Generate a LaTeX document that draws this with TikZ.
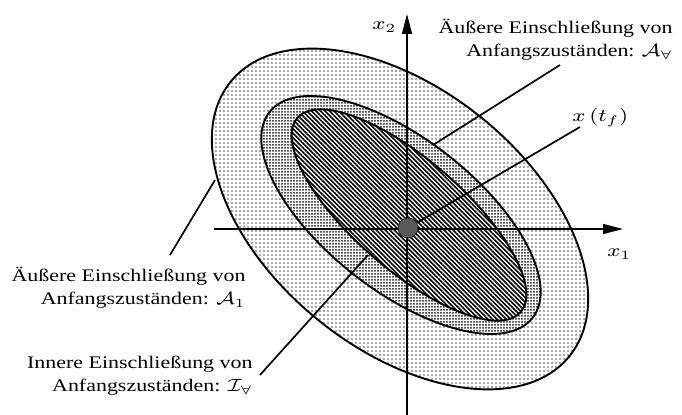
\RequirePackage{fix-cm}
\documentclass[tikz,border=0pt]{standalone}
\usepackage{fontspec}
\setmainfont{Liberation Serif}
\usepackage{graphicx}
\usetikzlibrary{patterns.meta,arrows.meta}
\newcommand{\hstr}[1]{\scalebox{1.24}[1]{#1}}
\begin{document}
\begin{tikzpicture}[x=0.5pt,y=-0.5pt,
  font=\fontsize{8.85}{11.75}\selectfont,
  bd/.style={line width=0.95pt},
  ptr/.style={line width=0.85pt},
  axisline/.style={line width=0.6pt, -{Triangle[length=10pt,width=5pt]}},
  lbl/.style={inner sep=0pt, anchor=base east},
  mlbl/.style={inner sep=0pt, anchor=base west}]
\useasboundingbox[fill=white] (0,0) rectangle (682,415);
\coordinate (cO) at (400,219);
\coordinate (cM) at (401,215);
\coordinate (cI) at (409,215);
% outer band
\begin{scope}
  \clip[rotate around={-39:(cO)}] (cO) ellipse [x radius=218, y radius=130];
  \fill[white] (0,0) rectangle (682,415);
  \fill[pattern={Dots[distance=2pt,radius=0.45pt]}, pattern color=black!70] (0,0) rectangle (682,415);
\end{scope}
% middle band
\begin{scope}
  \clip[rotate around={-38:(cM)}] (cM) ellipse [x radius=167, y radius=76];
  \fill[white] (0,0) rectangle (682,415);
  \fill[pattern={Dots[distance=1.5pt,radius=0.5pt]}, pattern color=black!90] (0,0) rectangle (682,415);
\end{scope}
% inner hatched region
\begin{scope}
  \clip[rotate around={-41:(cI)}] (cI) ellipse [x radius=148, y radius=55];
  \fill[white] (0,0) rectangle (682,415);
  \fill[pattern={Lines[angle=-45,distance=1.6pt,line width=0.8pt]}, pattern color=black] (0,0) rectangle (682,415);
\end{scope}
% outlines
\draw[bd, rotate around={-39:(cO)}] (cO) ellipse [x radius=218, y radius=130];
\draw[bd, rotate around={-38:(cM)}] (cM) ellipse [x radius=167, y radius=76];
\draw[bd, rotate around={-41:(cI)}] (cI) ellipse [x radius=148, y radius=55];
% axes
\coordinate (xs) at (214,229);
\coordinate (xe) at (623,229);
\coordinate (ys) at (407,415);
\coordinate (ye) at (407,14);
\draw[axisline] (xs) -- (xe);
\draw[axisline] (ys) -- (ye);
% centre point
\node[circle, fill=black!65, draw=black!85, line width=0.4pt, inner sep=0pt, minimum size=10pt] (dot) at (408,228) {};
% labels
\node[lbl] (lAv) at (673,57) {\hstr{\begin{tabular}[b]{@{}r@{}}Äußere Einschließung von\\Anfangszuständen: $\mathcal{A}_{\forall}$\end{tabular}}};
\node[lbl] (lA1) at (246,305) {\hstr{\begin{tabular}[b]{@{}r@{}}Äußere Einschließung von\\Anfangszuständen: $\mathcal{A}_1$\end{tabular}}};
\node[lbl] (lIv) at (253,392) {\hstr{\begin{tabular}[b]{@{}r@{}}Innere Einschließung von\\Anfangszuständen: $\mathcal{I}_{\forall}$\end{tabular}}};
\node[mlbl] (lx2) at (372,30) {\hstr{$x_2$}};
\node[mlbl] (lx1) at (607,257) {\hstr{$x_1$}};
\node[mlbl] (ltf) at (572,122) {\hstr{$x\,(t_f)$}};
% pointer lines
\coordinate (pAvS) at (560,65);
\coordinate (pAvE) at (433,145);
\coordinate (pTf) at (580,127);
\coordinate (pA1S) at (170,255);
\coordinate (pA1E) at (215,180);
\coordinate (pIvS) at (260,375);
\coordinate (pIvE) at (368,255);
\draw[ptr] (pAvS) -- (pAvE);
\draw[ptr] (dot) -- (pTf);
\draw[ptr] (pA1S) -- (pA1E);
\draw[ptr] (pIvS) -- (pIvE);
\end{tikzpicture}
\end{document}
